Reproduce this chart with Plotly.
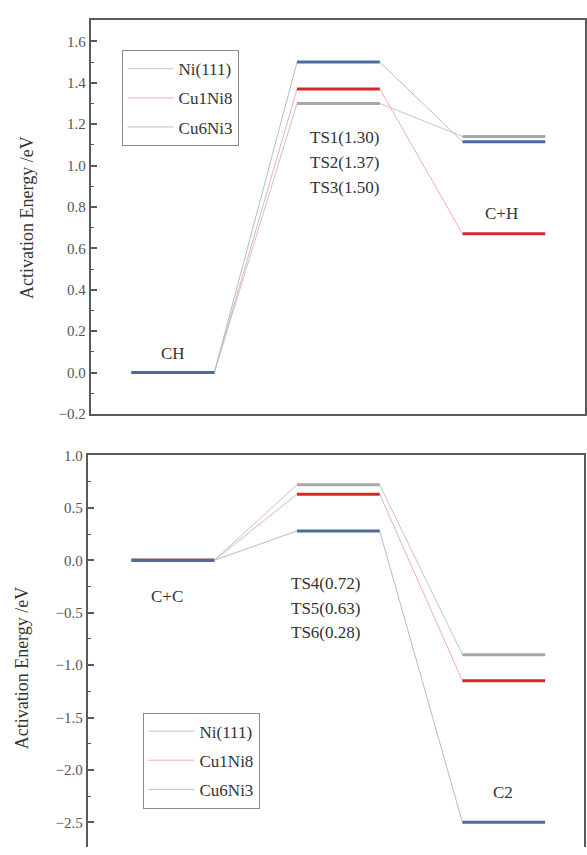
import plotly.graph_objects as go

# ---------------- data ----------------
series = ["Ni(111)", "Cu1Ni8", "Cu6Ni3"]
top_states = ["CH", "TS", "C+H"]
top_energy = {
    "Ni(111)": [0.0, 1.30, 1.14],
    "Cu1Ni8": [0.0, 1.37, 0.67],
    "Cu6Ni3": [0.0, 1.50, 1.115],
}
bot_states = ["C+C", "TS", "C2"]
bot_energy = {
    "Ni(111)": [0.0, 0.72, -0.90],
    "Cu1Ni8": [0.0, 0.63, -1.15],
    "Cu6Ni3": [0.0, 0.28, -2.50],
}
top_ts_labels = ["TS1(1.30)", "TS2(1.37)", "TS3(1.50)"]
bot_ts_labels = ["TS4(0.72)", "TS5(0.63)", "TS6(0.28)"]

level_colors = {"Ni(111)": "#a8a8a8", "Cu1Ni8": "#d8262c", "Cu6Ni3": "#4a6b9c"}
link_colors = {"Ni(111)": "#c4c4c4", "Cu1Ni8": "#eeb0b0", "Cu6Ni3": "#a8bfdc"}

SERIF = "Liberation Serif, Times New Roman, Times, serif"
W, H = 587, 855


def px_x(x):
    return x / W


def px_y(y):
    return 1 - y / H


fig = go.Figure()


def add_panel(energy, xa, ya, legend, tag):
    for s in series:
        e = energy[s]
        xs, ys = [], []
        for i, v in enumerate(e):
            xs += [2 * i, 2 * i + 1]
            ys += [v, v]
        # connectors (thin)
        fig.add_trace(go.Scatter(
            x=xs, y=ys, mode="lines", name=s, legend=legend,
            legendgroup=tag + s,
            line=dict(color=link_colors[s], width=1),
            xaxis=xa, yaxis=ya, hoverinfo="skip"))
        # levels (thick)
        lx, ly = [], []
        for i, v in enumerate(e):
            lx += [2 * i, 2 * i + 1, None]
            ly += [v, v, None]
        fig.add_trace(go.Scatter(
            x=lx, y=ly, mode="lines", showlegend=False,
            legendgroup=tag + s,
            line=dict(color=level_colors[s], width=3),
            xaxis=xa, yaxis=ya, hoverinfo="skip"))


add_panel(top_energy, "x", "y", "legend", "t")
add_panel(bot_energy, "x2", "y2", "legend2", "b")

axis_col = "#5a5a5a"
tickfont = dict(family=SERIF, size=15, color="#555555")

fig.update_layout(
    width=W, height=H,
    margin=dict(l=0, r=0, t=0, b=0),
    paper_bgcolor="white", plot_bgcolor="white",
    xaxis=dict(domain=[px_x(91), 1.0], range=[-0.494, 5.48],
               showgrid=False, zeroline=False, showticklabels=False,
               ticks="", showline=True, linecolor=axis_col, linewidth=2,
               mirror=True, anchor="y"),
    yaxis=dict(domain=[px_y(414), px_y(12)], range=[-0.2015, 1.704],
               showgrid=False, zeroline=False, showline=True,
               linecolor=axis_col, linewidth=2, mirror=True,
               ticks="inside", ticklen=6, tickwidth=1.5, tickcolor=axis_col,
               dtick=0.2, tick0=0, tickformat=".1f", tickfont=tickfont,
               minor=dict(ticks="inside", ticklen=3, tickwidth=1.2,
                          tickcolor=axis_col, dtick=0.1),
               anchor="x"),
    xaxis2=dict(domain=[px_x(88), px_x(586)], range=[-0.53, 5.47],
                showgrid=False, zeroline=False, showticklabels=False,
                ticks="", showline=True, linecolor=axis_col, linewidth=2,
                side="top", anchor="y2"),
    yaxis2=dict(domain=[0.0, px_y(456)], range=[-2.735, 1.0],
                showgrid=False, zeroline=False, showline=True,
                linecolor=axis_col, linewidth=2, mirror=True,
                ticks="inside", ticklen=6, tickwidth=1.5, tickcolor=axis_col,
                dtick=0.5, tick0=0, tickformat=".1f", tickfont=tickfont,
                minor=dict(ticks="inside", ticklen=3, tickwidth=1.2,
                           tickcolor=axis_col, dtick=0.25),
                anchor="x2"),
    legend=dict(x=px_x(122), y=px_y(43), xanchor="left", yanchor="top",
                bgcolor="white", bordercolor="#8a8a8a", borderwidth=1,
                font=dict(family=SERIF, size=17, color="#333333"),
                tracegroupgap=4, itemwidth=46),
    legend2=dict(x=px_x(143), y=px_y(718), xanchor="left", yanchor="top",
                 bgcolor="white", bordercolor="#8a8a8a", borderwidth=1,
                 font=dict(family=SERIF, size=17, color="#333333"),
                 tracegroupgap=4, itemwidth=46),
    showlegend=True,
)

txt = dict(family=SERIF, size=17, color="#333333")


def ann(text, x, y, xref, yref):
    fig.add_annotation(text=text, x=x, y=y, xref=xref, yref=yref,
                       showarrow=False, font=txt, xanchor="center",
                       yanchor="middle")


# top panel labels
ann(top_states[0], 0.5, 0.094, "x", "y")
for lab, yy in zip(top_ts_labels, [1.137, 1.014, 0.892]):
    ann(lab, 2.57, yy, "x", "y")
ann(top_states[2], 4.47, 0.769, "x", "y")

# bottom panel labels
ann(bot_states[0], 0.43, -0.346, "x2", "y2")
for lab, yy in zip(bot_ts_labels, [-0.224, -0.458, -0.692]):
    ann(lab, 2.35, yy, "x2", "y2")
ann(bot_states[2], 4.49, -2.215, "x2", "y2")

# y-axis titles
for yc, xc in [(213, 27), (672, 22)]:
    fig.add_annotation(text="Activation Energy /eV", x=px_x(xc), y=px_y(yc),
                       xref="paper", yref="paper", showarrow=False,
                       textangle=-90,
                       font=dict(family=SERIF, size=18, color="#333333"),
                       xanchor="center", yanchor="middle")

fig.write_html("out.html")
